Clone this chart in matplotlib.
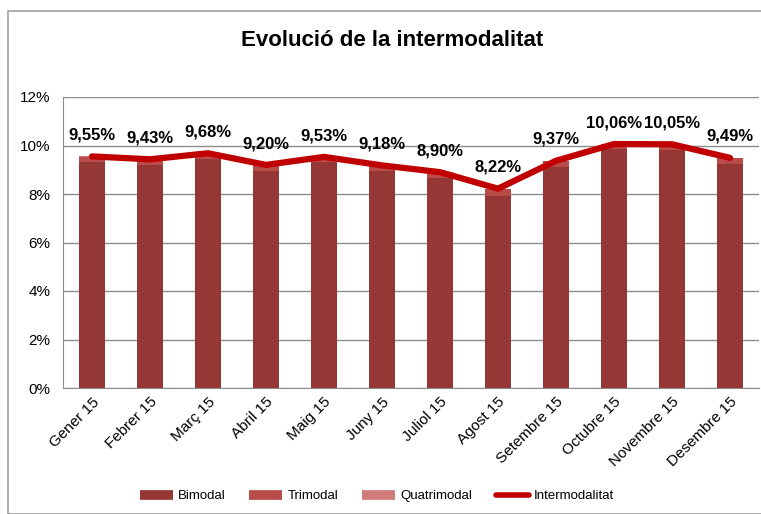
import numpy as np
import matplotlib.pyplot as plt
from matplotlib.patches import Rectangle
from matplotlib.lines import Line2D

plt.rcParams['font.family'] = ['Liberation Sans', 'DejaVu Sans']

mesos = ['Gener 15', 'Febrer 15', 'Març 15', 'Abril 15', 'Maig 15', 'Juny 15',
         'Juliol 15', 'Agost 15', 'Setembre 15', 'Octubre 15', 'Novembre 15', 'Desembre 15']
bimodal = [9.31, 9.19, 9.45, 8.95, 9.30, 8.95, 8.67, 7.92, 9.12, 9.84, 9.83, 9.25]
trimodal = [0.22, 0.22, 0.21, 0.23, 0.21, 0.21, 0.21, 0.28, 0.23, 0.20, 0.20, 0.22]
quatrimodal = [0.02, 0.02, 0.02, 0.02, 0.02, 0.02, 0.02, 0.02, 0.02, 0.02, 0.02, 0.02]
intermodalitat = [9.55, 9.43, 9.68, 9.20, 9.53, 9.18, 8.90, 8.22, 9.37, 10.06, 10.05, 9.49]

c_bi = '#953735'
c_tri = '#B94B48'
c_quat = '#D07C7A'
c_line = '#C00000'

fig = plt.figure(figsize=(7.61, 5.14), dpi=100)
W, H = 761, 514
fig.patches.append(Rectangle((8 / W, 0), 1, 1 - 11 / H, transform=fig.transFigure,
                             fill=False, edgecolor='#A0A0A0', linewidth=1.2))

ax = fig.add_axes([63 / W, 1 - 388 / H, 696 / W, 291 / H])
x = np.arange(len(mesos))
bw = 0.44
ax.bar(x, bimodal, bw, color=c_bi, zorder=2)
ax.bar(x, trimodal, bw, bottom=bimodal, color=c_tri, zorder=2)
bot = np.array(bimodal) + np.array(trimodal)
ax.bar(x, quatrimodal, bw, bottom=bot, color=c_quat, zorder=2)
ax.plot(x, intermodalitat, color=c_line, linewidth=4.5, solid_capstyle='round',
        solid_joinstyle='round', zorder=3)

for xi, v in zip(x, intermodalitat):
    ax.annotate(('%.2f%%' % v).replace('.', ','), (xi, v), xytext=(0, 10),
                textcoords='offset points', ha='center', va='bottom',
                fontsize=12, fontweight='bold', zorder=4)

ax.set_xlim(-0.5, len(mesos) - 0.5)
ax.set_ylim(0, 12)
ax.set_yticks(np.arange(0, 13, 2))
ax.set_yticklabels(['%d%%' % t for t in range(0, 13, 2)], fontsize=11)
ax.yaxis.grid(True, color='#8C8C8C', linewidth=1, zorder=0)
ax.set_axisbelow(True)
ax.set_xticks(x)
ax.set_xticklabels(mesos, rotation=45, ha='right', rotation_mode='anchor', fontsize=11)
ax.tick_params(axis='y', length=0, pad=9)
ax.tick_params(axis='x', length=0, pad=5)
for s in ['top', 'right']:
    ax.spines[s].set_visible(False)
for s in ['left', 'bottom']:
    ax.spines[s].set_color('#8C8C8C')

fig.text(392 / W, 1 - 41 / H, 'Evolució de la intermodalitat', ha='center', va='center',
         fontsize=16, fontweight='bold')

handles = [Line2D([], [], color=c_bi, linewidth=7, solid_capstyle='butt'),
           Line2D([], [], color=c_tri, linewidth=7, solid_capstyle='butt'),
           Line2D([], [], color=c_quat, linewidth=7, solid_capstyle='butt'),
           Line2D([], [], color=c_line, linewidth=4, solid_capstyle='round')]
fig.legend(handles, ['Bimodal', 'Trimodal', 'Quatrimodal', 'Intermodalitat'],
           loc='center', bbox_to_anchor=(377 / W, 1 - 496 / H), ncol=4, frameon=False,
           fontsize=9.5, handlelength=2.5, handletextpad=0.4, columnspacing=1.8)

fig.savefig('out.png', dpi=100)
